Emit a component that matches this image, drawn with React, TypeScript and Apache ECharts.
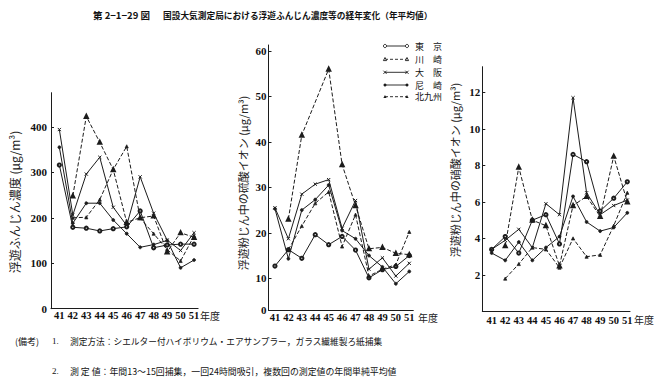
import React, { useEffect, useRef } from "react";
import * as echarts from "echarts";

// ---- data -------------------------------------------------------------
const years = [41, 42, 43, 44, 45, 46, 47, 48, 49, 50, 51];
const cityNames = ["東京", "川崎", "大阪", "尼崎", "北九州"];
const legendLabels = ["東　京", "川　崎", "大　阪", "尼　崎", "北九州"];

// panel 1: 浮遊ふんじん濃度 (μg/m³)
const dustTokyo = [316, 179, 177, 171, 176, 180, 215, 134, 140, 142, 142];
const dustKawasaki = [null, 248, 423, 366, 306, 190, 200, 204, 125, 167, 157];
const dustOsaka = [394, 206, 296, 333, 223, 183, 290, 210, 151, 128, 167];
const dustAmagasaki = [355, 188, 232, 232, 195, 165, 135, 141, 150, 90, 107];
const dustKitakyushu = [null, 200, 201, 240, 306, 357, 199, 165, 130, 105, 160];

// panel 2: 硫酸イオン (μg/m³)
const so4Tokyo = [12.7, 16.3, 14.4, 19.6, 17.4, 19.2, 16.2, 10.1, 11.9, 12.6, 15.0];
const so4Kawasaki = [null, 23.0, 41.5, null, 56.0, 35.0, 26.0, 16.5, 16.8, 15.5, 15.2];
const so4Osaka = [25.5, 18.7, 28.5, 30.7, 31.7, 21.0, 27.1, 12.0, 14.5, 10.5, 13.3];
const so4Amagasaki = [25.3, 14.3, 25.0, 27.3, 30.5, 20.5, 18.7, 15.0, 12.5, 8.8, 11.5];
const so4Kitakyushu = [null, 16.3, 21.5, 26.5, 29.0, 17.0, 24.0, 10.5, 12.0, 13.0, 20.2];

// panel 3: 硝酸イオン (μg/m³)
const no3Tokyo = [3.4, 4.1, 3.2, 5.0, 5.3, 3.7, 8.6, 8.2, 5.5, 6.2, 7.1];
const no3Kawasaki = [null, 3.6, 7.9, 5.0, 4.7, 2.5, 5.8, 6.3, 5.2, 8.5, 6.0];
const no3Osaka = [3.4, 3.9, 4.5, 3.5, 5.9, 5.3, 11.7, 6.5, 5.3, 5.8, 6.1];
const no3Amagasaki = [3.2, 2.8, 3.8, 2.8, 3.5, 4.1, 6.3, 4.9, 4.4, 4.6, 5.4];
const no3Kitakyushu = [null, 1.8, 2.6, 3.5, 3.4, 2.4, 4.0, 3.0, 3.1, 4.7, 6.5];

// tick labels
const dustTicks = [0, 100, 200, 300, 400];
const so4Ticks = [10, 20, 30, 40, 50, 60];
const no3Ticks = [2, 4, 6, 8, 10, 12];

const titleNo = "第 2−1−29 図";
const titleText = "国設大気測定局における浮遊ふんじん濃度等の経年変化（年平均値）";
const yNames = [
  "浮遊ふんじん濃度 (μg/m³)",
  "浮遊粉じん中の硫酸イオン (μg/m³)",
  "浮遊粉じん中の硝酸イオン (μg/m³)",
];
const noteHead = "(備考)";
const note1 = "測定方法：シエルター付ハイボリウム・エアサンプラー，ガラス繊維製ろ紙捕集";
const note2 = "測 定 値：年間13～15回捕集，一回24時間吸引，複数回の測定値の年間単純平均値";
const yearUnit = "年度";

// ---- styling ------------------------------------------------------------
const INK = "#1c1c1c";
const NUM_FONT = '"Liberation Serif", "DejaVu Serif", serif';
const CJK_FONT = "Noto Sans CJK JP";

const symbolDefs = [
  { symbol: "emptyCircle", size: 3.2, dashed: false },
  { symbol: "emptyTriangle", size: 3.2, dashed: true },
  { symbol: "path://M0,0L10,10M0,10L10,0", size: 3.2, dashed: false },
  { symbol: "circle", size: 3, dashed: false },
  { symbol: "triangle", size: 3.2, dashed: true },
];

const panels = [
  {
    grid: { left: 51, top: 92.7, width: 147.1, height: 216 },
    x: { min: 40.38, max: 51.3, labelMargin: 1 },
    y: { min: 0, max: 475, ticks: dustTicks, labelMargin: 4, zeroLabel: false },
    series: [dustTokyo, dustKawasaki, dustOsaka, dustAmagasaki, dustKitakyushu],
  },
  {
    grid: { left: 268.5, top: 45, width: 144.8, height: 265 },
    x: { min: 40.52, max: 51.3, labelMargin: 2 },
    y: { min: 3.03, max: 61.3, ticks: so4Ticks, labelMargin: 2, zeroLabel: true },
    series: [so4Tokyo, so4Kawasaki, so4Osaka, so4Amagasaki, so4Kitakyushu],
  },
  {
    grid: { left: 482.3, top: 66.7, width: 147.7, height: 244.8 },
    x: { min: 40.31, max: 51.2, labelMargin: 3 },
    y: { min: 0, max: 13.4, ticks: no3Ticks, labelMargin: 2, zeroLabel: false },
    series: [no3Tokyo, no3Kawasaki, no3Osaka, no3Amagasaki, no3Kitakyushu],
  },
];

const yNamePos = [
  { x: 14, y: 202, size: 12 },
  { x: 243, y: 183, size: 11 },
  { x: 455, y: 170, size: 11 },
];
const yearUnitPos = [
  { x: 200, y: 315 },
  { x: 418, y: 317.5 },
  { x: 634, y: 319 },
];

function legendMarker(kind: number, cx: number, cy: number): any[] {
  const stroke = { stroke: INK, lineWidth: 0.9 };
  if (kind === 0)
    return [{ type: "circle", shape: { cx, cy, r: 1.6 }, style: { fill: "#fff", ...stroke } }];
  if (kind === 1)
    return [{ type: "polygon", shape: { points: [[cx, cy - 1.8], [cx - 1.6, cy + 1.3], [cx + 1.6, cy + 1.3]] }, style: { fill: "#fff", ...stroke } }];
  if (kind === 2)
    return [
      { type: "line", shape: { x1: cx - 1.6, y1: cy - 1.6, x2: cx + 1.6, y2: cy + 1.6 }, style: stroke },
      { type: "line", shape: { x1: cx - 1.6, y1: cy + 1.6, x2: cx + 1.6, y2: cy - 1.6 }, style: stroke },
    ];
  if (kind === 3)
    return [{ type: "circle", shape: { cx, cy, r: 1.5 }, style: { fill: INK } }];
  return [{ type: "polygon", shape: { points: [[cx, cy - 1.8], [cx - 1.6, cy + 1.3], [cx + 1.6, cy + 1.3]] }, style: { fill: INK } }];
}

function buildOption() {
  const grid: any[] = [];
  const xAxis: any[] = [];
  const yAxis: any[] = [];
  const series: any[] = [];

  panels.forEach((p, pi) => {
    grid.push({ ...p.grid, containLabel: false, outerBoundsMode: "none" });
    xAxis.push({
      type: "value",
      gridIndex: pi,
      min: p.x.min,
      max: p.x.max,
      axisLine: { show: true, lineStyle: { color: INK, width: 1 } },
      axisTick: { show: false },
      splitLine: { show: false },
      axisLabel: {
        customValues: years,
        margin: p.x.labelMargin,
        color: "#111",
        fontFamily: NUM_FONT,
        fontSize: 10.5,
        fontWeight: "bold",
        formatter: (v: number) => String(Math.round(v)),
      },
    });
    const yTickVals = p.y.zeroLabel ? [p.y.min, ...p.y.ticks] : p.y.ticks;
    yAxis.push({
      type: "value",
      gridIndex: pi,
      min: p.y.min,
      max: p.y.max,
      axisLine: { show: true, lineStyle: { color: INK, width: 1 } },
      axisTick: { show: true, inside: true, length: 3, customValues: p.y.ticks, lineStyle: { color: INK } },
      splitLine: { show: false },
      axisLabel: {
        customValues: yTickVals,
        margin: p.y.labelMargin,
        color: "#111",
        fontFamily: NUM_FONT,
        fontSize: 11,
        fontWeight: "bold",
        formatter: (v: number) => (p.y.zeroLabel && v < p.y.ticks[0] - 5 ? "0" : String(Math.round(v))),
      },
    });
    p.series.forEach((arr, si) => {
      const def = symbolDefs[si];
      series.push({
        type: "line",
        name: cityNames[si],
        xAxisIndex: pi,
        yAxisIndex: pi,
        data: years.map((yr, i) => [yr, arr[i]]).filter((d) => d[1] != null),
        symbol: def.symbol,
        symbolSize: def.size,
        showAllSymbol: true,
        lineStyle: { color: INK, width: 1, type: def.dashed ? [4, 2] : "solid" },
        itemStyle: { color: INK, borderColor: INK, borderWidth: si === 2 ? 1 : 0.7 },
        emphasis: { disabled: true },
        silent: true,
      });
    });
  });

  const graphic: any[] = [];
  graphic.push({
    type: "text", x: 93, y: 15,
    style: { text: titleNo, fill: "#111", font: `bold 9.5px "${CJK_FONT}"`, align: "left", verticalAlign: "middle" },
  });
  graphic.push({
    type: "text", x: 163, y: 15,
    style: { text: titleText, fill: "#111", font: `bold 8.7px "${CJK_FONT}"`, align: "left", verticalAlign: "middle" },
  });
  yNames.forEach((t, i) => {
    graphic.push({
      type: "text", x: yNamePos[i].x, y: yNamePos[i].y, rotation: Math.PI / 2,
      style: { text: t, fill: "#222", font: `${yNamePos[i].size}px "${CJK_FONT}"`, align: "center", verticalAlign: "middle" },
    });
  });
  yearUnitPos.forEach((pos) => {
    graphic.push({
      type: "text", x: pos.x, y: pos.y,
      style: { text: yearUnit, fill: "#222", font: `10px "${CJK_FONT}"`, align: "left", verticalAlign: "middle" },
    });
  });
  // legend
  const rowsY = [46, 59.3, 72.3, 85, 96.7];
  legendLabels.forEach((lab, i) => {
    const y = rowsY[i];
    graphic.push({
      type: "line",
      shape: { x1: 385, y1: y, x2: 407, y2: y },
      style: { stroke: INK, lineWidth: 0.9, lineDash: symbolDefs[i].dashed ? [3, 2] : null },
    });
    legendMarker(i, 385, y).forEach((g) => graphic.push(g));
    legendMarker(i, 407, y).forEach((g) => graphic.push(g));
    graphic.push({
      type: "text", x: 415, y,
      style: { text: lab, fill: "#111", font: `9px "${CJK_FONT}"`, align: "left", verticalAlign: "middle" },
    });
  });
  // notes
  graphic.push({ type: "text", x: 15, y: 341, style: { text: noteHead, fill: "#111", font: `9px "${CJK_FONT}"`, align: "left", verticalAlign: "middle" } });
  graphic.push({ type: "text", x: 52, y: 341, style: { text: "1.", fill: "#111", font: `9px "Liberation Serif"`, align: "left", verticalAlign: "middle" } });
  graphic.push({ type: "text", x: 70, y: 341, style: { text: note1, fill: "#111", font: `8.7px "${CJK_FONT}"`, align: "left", verticalAlign: "middle" } });
  graphic.push({ type: "text", x: 52, y: 371, style: { text: "2.", fill: "#111", font: `9px "Liberation Serif"`, align: "left", verticalAlign: "middle" } });
  graphic.push({ type: "text", x: 70, y: 371, style: { text: note2, fill: "#111", font: `8.9px "${CJK_FONT}"`, align: "left", verticalAlign: "middle" } });

  return {
    animation: false,
    backgroundColor: "#ffffff",
    grid,
    xAxis,
    yAxis,
    series,
    graphic,
  };
}

export default function App() {
  const ref = useRef<HTMLDivElement>(null);
  useEffect(() => {
    if (!ref.current) return;
    const chart = echarts.init(ref.current, null, { renderer: "svg" });
    chart.setOption(buildOption());
    return () => chart.dispose();
  }, []);
  return (
    <div
      ref={ref}
      style={{ position: "absolute", left: 0, top: 0, width: 664, height: 384, background: "#fff" }}
    />
  );
}
